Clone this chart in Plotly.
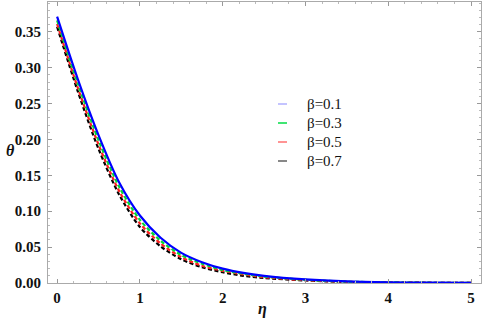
import plotly.graph_objects as go

eta = [0, 0.25, 0.5, 0.75, 1.0, 1.25, 1.5, 1.75, 2.0, 2.25, 2.5, 3.0, 3.5, 4.0, 4.5, 5.0]
theta_b01 = [0.371, 0.284, 0.206, 0.140, 0.094, 0.063, 0.042, 0.029, 0.020, 0.014, 0.010, 0.005, 0.0022, 0.0010, 0.0005, 0.0002]
theta_b03 = [0.366, 0.278, 0.199, 0.134, 0.088, 0.059, 0.039, 0.027, 0.018, 0.013, 0.009, 0.0045, 0.0019, 0.0009, 0.0004, 0.0002]
theta_b05 = [0.361, 0.272, 0.193, 0.128, 0.083, 0.055, 0.036, 0.024, 0.017, 0.012, 0.008, 0.0040, 0.0017, 0.0008, 0.0004, 0.0001]
theta_b07 = [0.357, 0.267, 0.187, 0.123, 0.078, 0.051, 0.033, 0.022, 0.015, 0.010, 0.007, 0.0035, 0.0015, 0.0007, 0.0003, 0.0001]
labels = ["β=0.1", "β=0.3", "β=0.5", "β=0.7"]

series = [theta_b01, theta_b03, theta_b05, theta_b07]
colors = ["#0000ff", "#00dd33", "#ff2020", "#000000"]
legend_colors = ["#b0b0ff", "#00dd44", "#ff7070", "#606060"]
dashes = ["solid", "4px,2.5px", "4px,2.5px", "4px,2.5px"]

fig = go.Figure()
for ys, c, d, lab in reversed(list(zip(series, colors, dashes, labels))):
    fig.add_trace(go.Scatter(x=eta, y=ys, mode="lines", name=lab,
                             line=dict(color=c, width=2.2, dash=d, shape="spline", smoothing=0.8),
                             showlegend=False))

serif = "Liberation Serif"
tickfont = dict(family=serif, size=15, color="#111", weight="bold")
titlefont = dict(family=serif, size=16, weight="bold", style="italic", color="#111")

fig.update_layout(
    width=484, height=327,
    margin=dict(l=48, r=3, t=2, b=44),
    paper_bgcolor="white", plot_bgcolor="white",
    showlegend=False,
)
fig.update_xaxes(range=[-0.11, 5.12], tickvals=[0, 1, 2, 3, 4, 5], ticks="inside", ticklen=4,
                 tickcolor="#999", showline=True, linecolor="#aaa", linewidth=1, mirror="ticks",
                 showgrid=False, zeroline=False, tickfont=tickfont, ticklabelstandoff=1,
                 ticklabeloverflow="allow", automargin=False,
                 minor=dict(ticks="inside", ticklen=2, tickcolor="#bbb", dtick=0.2))
fig.update_yaxes(range=[0, 0.3915], tickvals=[0, 0.05, 0.1, 0.15, 0.2, 0.25, 0.3, 0.35], tickformat=".2f",
                 ticks="inside", ticklen=4, tickcolor="#999", showline=True, linecolor="#aaa", linewidth=1,
                 mirror="ticks", showgrid=False, zeroline=False, tickfont=tickfont, ticklabelstandoff=3,
                 ticklabeloverflow="allow", automargin=False,
                 minor=dict(ticks="inside", ticklen=2, tickcolor="#bbb", dtick=0.01))

# axis titles
fig.add_annotation(xref="paper", yref="paper", x=(262 - 48) / 433, y=1 - (309 - 2) / 281, text="η",
                   showarrow=False, xanchor="center", yanchor="middle", font=titlefont)
fig.add_annotation(xref="paper", yref="paper", x=(10 - 48) / 433, y=1 - (150 - 2) / 281, text="θ",
                   showarrow=False, xanchor="center", yanchor="middle", font=titlefont)

# manual legend
y0 = 104
for i, (lab, lc) in enumerate(zip(labels, legend_colors)):
    ypx = y0 + i * 19
    yp = 1 - (ypx - 2) / 281
    x1 = (278 - 48) / 433
    x2 = (287 - 48) / 433
    fig.add_shape(type="line", xref="paper", yref="paper", x0=x1, x1=x2, y0=yp, y1=yp,
                  line=dict(color=lc, width=1.5))
    fig.add_annotation(xref="paper", yref="paper", x=(305 - 48) / 433, y=yp, text=lab,
                       showarrow=False, xanchor="left", yanchor="middle",
                       font=dict(family=serif, size=15, color="#111"))

fig.write_html("out.html", config={"displayModeBar": False},
               post_script="document.body.style.margin='0px';document.body.style.overflow='hidden';")
